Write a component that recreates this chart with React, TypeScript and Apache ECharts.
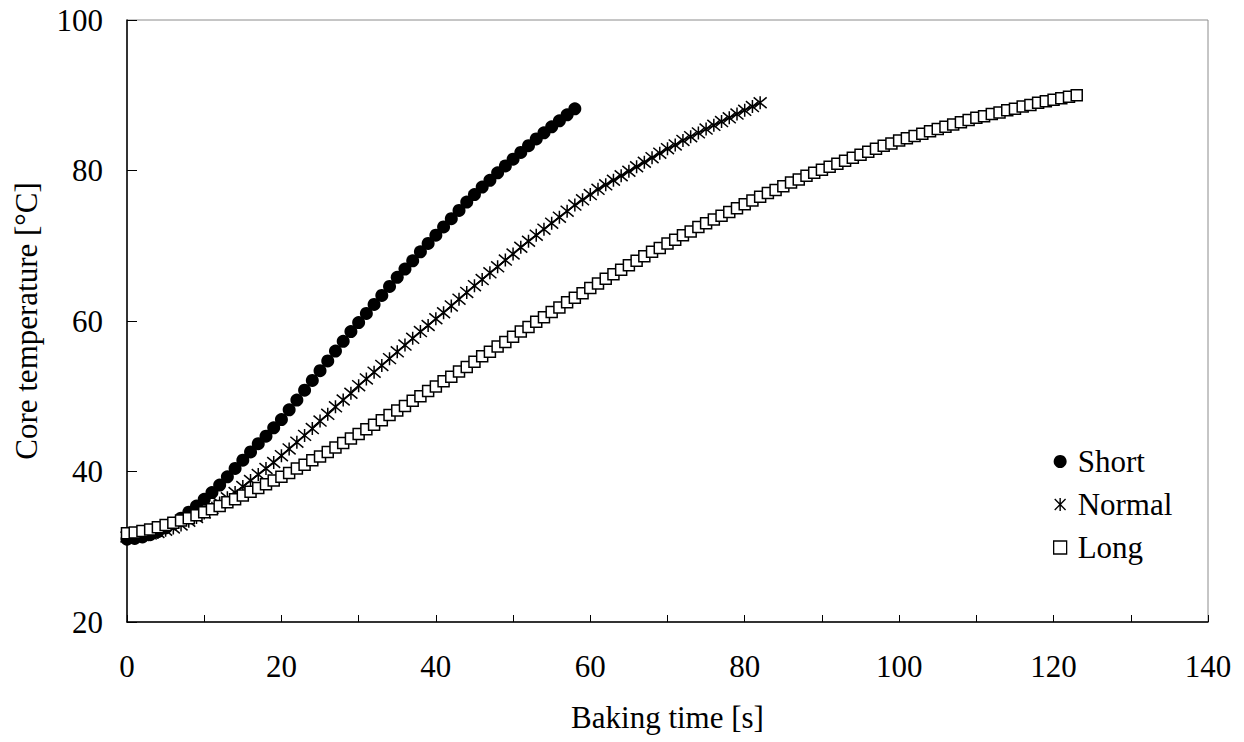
import React, { useEffect, useRef } from "react";
import * as echarts from "echarts";

// Sampling step of the logged data (one marker per second)
const sampleStepSeconds = 1;

// Core temperature [°C], one value per second from t = 0
const shortTemps = [
  31.0, 31.1, 31.3, 31.6, 32.0, 32.5, 33.1, 33.8, 34.6, 35.4,
  36.3, 37.2, 38.2, 39.3, 40.4, 41.5, 42.6, 43.7, 44.7, 45.8,
  46.9, 48.2, 49.5, 50.8, 52.1, 53.4, 54.7, 56.0, 57.3, 58.6,
  59.8, 61.0, 62.2, 63.4, 64.6, 65.8, 66.9, 68.0, 69.2, 70.3,
  71.4, 72.5, 73.6, 74.7, 75.8, 76.8, 77.8, 78.7, 79.7, 80.6,
  81.5, 82.4, 83.3, 84.2, 85.0, 85.8, 86.6, 87.4, 88.2,
];

const normalTemps = [
  31.3, 31.4, 31.5, 31.7, 31.9, 32.2, 32.5, 32.9, 33.4, 33.9,
  34.5, 35.1, 35.8, 36.5, 37.2, 38.0, 38.8, 39.6, 40.4, 41.2,
  42.1, 43.0, 43.9, 44.8, 45.7, 46.7, 47.6, 48.6, 49.5, 50.4,
  51.4, 52.3, 53.2, 54.1, 55.0, 55.9, 56.8, 57.7, 58.6, 59.4,
  60.3, 61.1, 62.0, 62.9, 63.8, 64.7, 65.5, 66.4, 67.2, 68.1,
  68.9, 69.8, 70.6, 71.4, 72.2, 73.0, 73.8, 74.6, 75.4, 76.1,
  76.8, 77.5, 78.1, 78.7, 79.3, 79.9, 80.5, 81.1, 81.7, 82.3,
  82.9, 83.4, 84.0, 84.5, 85.0, 85.5, 86.0, 86.5, 87.0, 87.5,
  88.0, 88.5, 89.0,
];

const longTemps = [
  31.8, 31.9, 32.1, 32.3, 32.6, 32.9, 33.2, 33.5, 33.8, 34.2,
  34.6, 35.0, 35.4, 35.9, 36.3, 36.8, 37.3, 37.8, 38.3, 38.8,
  39.3, 39.8, 40.4, 40.9, 41.5, 42.0, 42.6, 43.2, 43.8, 44.4,
  45.0, 45.6, 46.2, 46.8, 47.5, 48.1, 48.7, 49.4, 50.0, 50.7,
  51.3, 52.0, 52.6, 53.3, 53.9, 54.6, 55.3, 55.9, 56.6, 57.2,
  57.9, 58.6, 59.2, 59.9, 60.5, 61.2, 61.8, 62.5, 63.1, 63.7,
  64.4, 65.0, 65.6, 66.2, 66.8, 67.4, 68.0, 68.6, 69.2, 69.7,
  70.3, 70.8, 71.4, 71.9, 72.5, 73.0, 73.5, 74.0, 74.5, 75.0,
  75.5, 76.0, 76.5, 77.0, 77.4, 77.9, 78.4, 78.8, 79.3, 79.7,
  80.1, 80.5, 80.9, 81.3, 81.7, 82.1, 82.5, 82.9, 83.3, 83.6,
  84.0, 84.3, 84.6, 84.9, 85.2, 85.5, 85.8, 86.1, 86.4, 86.7,
  87.0, 87.2, 87.5, 87.7, 88.0, 88.2, 88.5, 88.7, 89.0, 89.2,
  89.4, 89.6, 89.8, 90.0,
];

const seriesNames = ["Short", "Normal", "Long"];
const xAxisTitle = "Baking time [s]";
const yAxisTitle = "Core temperature [°C]";

const FONT = "'Liberation Serif', 'Times New Roman', serif";
const FS = 31;
const ASTERISK = "path://M1,1L11,11M11,1L1,11M6,0L6,12";

function toPoints(values: number[]) {
  return values.map((v, i) => [i * sampleStepSeconds, v]);
}

export default function App() {
  const ref = useRef<HTMLDivElement>(null);

  useEffect(() => {
    if (!ref.current) return;
    const chart = echarts.init(ref.current, undefined, { renderer: "svg" });
    chart.setOption({
      animation: false,
      backgroundColor: "#fff",
      textStyle: { fontFamily: FONT, color: "#000" },
      grid: {
        left: 127,
        right: 36,
        top: 20,
        bottom: 120,
        show: true,
        borderColor: "#8c8c8c",
        borderWidth: 1,
      },
      legend: {
        orient: "vertical",
        left: 1048,
        top: 441,
        itemGap: 12,
        itemWidth: 13,
        itemHeight: 13,
        textStyle: { fontFamily: FONT, fontSize: FS, color: "#000", padding: [0, 0, 0, 6] },
        data: [
          { name: seriesNames[0], icon: "circle", itemStyle: { color: "#000", borderWidth: 0 } },
          {
            name: seriesNames[1],
            icon: ASTERISK,
            itemStyle: { color: "transparent", borderColor: "#000", borderWidth: 1.4 },
          },
          {
            name: seriesNames[2],
            icon: "rect",
            itemStyle: { color: "#fff", borderColor: "#000", borderWidth: 1.3 },
          },
        ],
      },
      xAxis: {
        type: "value",
        min: 0,
        max: 140,
        interval: 10,
        name: xAxisTitle,
        nameLocation: "middle",
        nameGap: 80,
        nameTextStyle: { fontFamily: FONT, fontSize: FS, color: "#000" },
        axisLine: { show: true, onZero: false, lineStyle: { color: "#000", width: 1.5 } },
        axisTick: { show: true, inside: true, length: 7, lineStyle: { color: "#000", width: 1 } },
        axisLabel: {
          fontFamily: FONT,
          fontSize: FS,
          color: "#000",
          margin: 29,
          formatter: (v: number) => (v % 20 === 0 ? String(v) : ""),
        },
        splitLine: { show: false },
      },
      yAxis: {
        type: "value",
        min: 20,
        max: 100,
        interval: 20,
        name: yAxisTitle,
        nameLocation: "middle",
        nameGap: 85,
        nameTextStyle: { fontFamily: FONT, fontSize: FS, color: "#000" },
        axisLine: { show: true, onZero: false, lineStyle: { color: "#000", width: 1.5 } },
        axisTick: { show: true, inside: true, length: 10, lineStyle: { color: "#000", width: 1 } },
        axisLabel: { fontFamily: FONT, fontSize: FS, color: "#000", margin: 24 },
        splitLine: { show: false },
      },
      series: [
        {
          name: seriesNames[0],
          type: "line",
          data: toPoints(shortTemps),
          symbol: "circle",
          symbolSize: 13,
          showAllSymbol: true,
          lineStyle: { color: "#000", width: 1.5 },
          itemStyle: { color: "#000", borderWidth: 0 },
        },
        {
          name: seriesNames[1],
          type: "line",
          data: toPoints(normalTemps),
          symbol: ASTERISK,
          symbolSize: 13,
          showAllSymbol: true,
          lineStyle: { color: "#000", width: 1.6 },
          itemStyle: { color: "transparent", borderColor: "#000", borderWidth: 1.5 },
        },
        {
          name: seriesNames[2],
          type: "line",
          data: toPoints(longTemps),
          symbol: "rect",
          symbolSize: 11,
          showAllSymbol: true,
          lineStyle: { color: "#000", width: 1.5 },
          itemStyle: { color: "#fff", borderColor: "#000", borderWidth: 1.5 },
        },
      ],
    });
    return () => chart.dispose();
  }, []);

  return (
    <div
      ref={ref}
      style={{ position: "fixed", left: 0, top: 0, width: 1244, height: 742, background: "#fff" }}
    />
  );
}
